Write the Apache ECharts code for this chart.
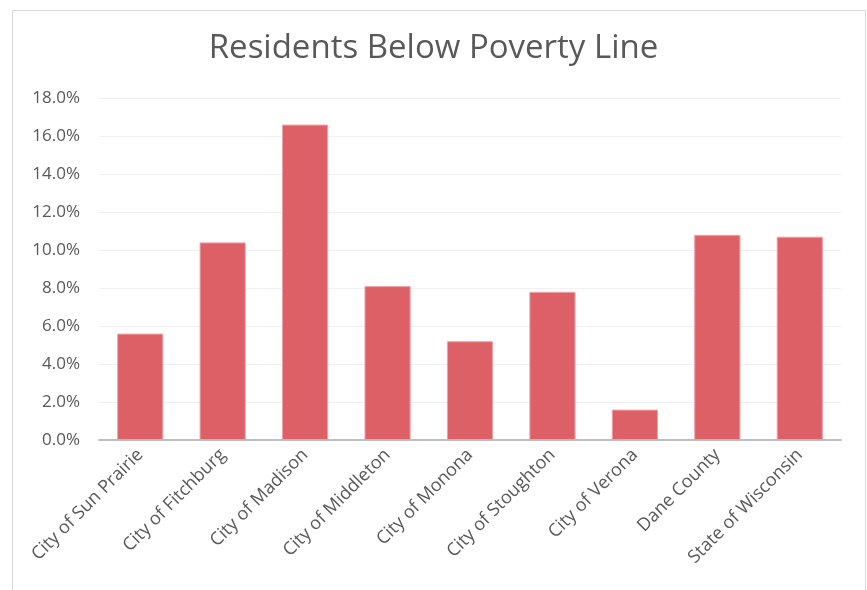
<!DOCTYPE html>
<html><head><meta charset="utf-8">
<script src="https://cdn.jsdelivr.net/npm/echarts@6/dist/echarts.min.js"></script>
<style>html,body{margin:0;padding:0;background:#fff}#c{width:867px;height:590px}</style>
</head><body><div id="c"></div>
<script>
const categories = ["City of Sun Prairie","City of Fitchburg","City of Madison","City of Middleton","City of Monona","City of Stoughton","City of Verona","Dane County","State of Wisconsin"];
const povertyRate = [5.6, 10.4, 16.6, 8.1, 5.2, 7.8, 1.6, 10.8, 10.7];
const chart = echarts.init(document.getElementById('c'), null, {renderer:'canvas'});
chart.setOption({
  animation:false,
  backgroundColor:'#fff',
  graphic:[{type:'rect', shape:{x:12.5,y:10.5,width:853,height:600}, style:{fill:'none', stroke:'#d9d9d9', lineWidth:1}, silent:true}],
  title:{text:'Residents Below Poverty Line', left:'center', top:27,
    textStyle:{fontFamily:'Open Sans', fontSize:33, fontWeight:'normal', color:'#595959'}},
  grid:{left:99, right:26, top:98, bottom:150},
  xAxis:{type:'category', data:categories,
    axisLine:{lineStyle:{color:'#bfbfbf', width:2}},
    axisTick:{show:false},
    axisLabel:{rotate:45, interval:0, color:'#595959', fontFamily:'Open Sans', fontSize:18, margin:12}},
  yAxis:{type:'value', min:0, max:18, interval:2,
    axisLine:{show:false}, axisTick:{show:false},
    splitLine:{lineStyle:{color:'#f0f0f0', width:1}},
    axisLabel:{formatter:v=>v.toFixed(1)+'%', color:'#595959', fontFamily:'Open Sans', fontSize:17, margin:19}},
  series:[{type:'bar', data:povertyRate, barWidth:'56%',
    itemStyle:{color:'#dc6066', borderColor:'#eea3a6', borderWidth:1}}]
});
</script></body></html>
